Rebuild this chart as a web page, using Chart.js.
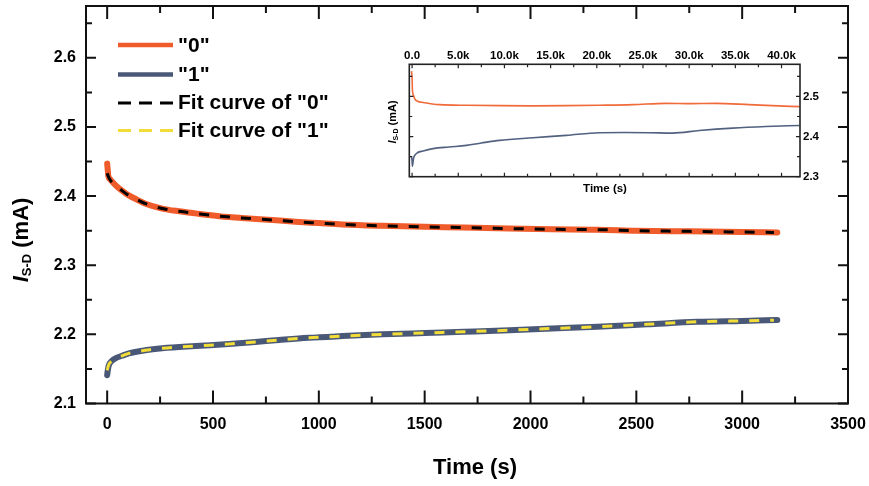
<!DOCTYPE html>
<html>
<head>
<meta charset="utf-8">
<script src="https://cdn.jsdelivr.net/npm/chart.js@4.4.1/dist/chart.umd.min.js"></script>
<style>
html, body { margin: 0; padding: 0; background: #fff; }
#wrap { position: relative; width: 869px; height: 486px; }
#main { position: absolute; left: 0; top: 0; }
#inset { position: absolute; left: 340px; top: 0; }
</style>
</head>
<body>
<div id="wrap">
  <canvas id="main" width="869" height="486" style="width:869px;height:486px"></canvas>
  <canvas id="inset" width="500" height="200" style="width:500px;height:200px"></canvas>
</div>
<script>
// main plot: first ~3200 s
const time0 = [0, 3, 5, 15, 39, 70, 102, 140, 181, 260, 340, 417, 530, 654, 780, 890, 1000, 1111, 1300, 1500, 1685, 1900, 2100, 2316, 2500, 2750, 3000, 3166];
const curr0 = [2.447, 2.437, 2.430, 2.424, 2.416, 2.408, 2.401, 2.395, 2.389, 2.382, 2.378, 2.375, 2.371, 2.368, 2.3655, 2.363, 2.361, 2.359, 2.357, 2.3555, 2.3545, 2.353, 2.352, 2.3515, 2.350, 2.349, 2.348, 2.3475];
const fitTime0 = [0, 5, 15, 39, 70, 102, 140, 181, 260, 340, 417, 530, 654, 780, 890, 1000, 1111, 1300, 1500, 1685, 1900, 2100, 2316, 2500, 2750, 3000, 3150];
const fit0 = [2.433, 2.429, 2.423, 2.416, 2.408, 2.401, 2.395, 2.389, 2.382, 2.378, 2.375, 2.371, 2.368, 2.3655, 2.363, 2.361, 2.359, 2.357, 2.3555, 2.3545, 2.353, 2.352, 2.3515, 2.350, 2.349, 2.348, 2.3475];

const time1 = [0, 3, 8, 20, 39, 70, 102, 180, 260, 417, 575, 700, 811, 950, 1111, 1300, 1500, 1685, 1900, 2100, 2316, 2550, 2788, 3000, 3166];
const curr1 = [2.141, 2.148, 2.1556, 2.161, 2.1653, 2.169, 2.1725, 2.177, 2.1798, 2.1831, 2.186, 2.189, 2.1918, 2.195, 2.1975, 2.200, 2.202, 2.2038, 2.206, 2.2085, 2.211, 2.2145, 2.2182, 2.2195, 2.2207];
const fitTime1 = [0, 8, 20, 39, 70, 102, 180, 260, 417, 575, 700, 811, 950, 1111, 1300, 1500, 1685, 1900, 2100, 2316, 2550, 2788, 3000, 3150];
const fit1 = [2.148, 2.1565, 2.161, 2.1653, 2.169, 2.1725, 2.177, 2.1798, 2.1831, 2.186, 2.189, 2.1918, 2.195, 2.1975, 2.200, 2.202, 2.2038, 2.206, 2.2085, 2.211, 2.2145, 2.2182, 2.2195, 2.2205];

// inset: full ~42 ks run
const insTime0 = [-60, 0, 45, 150, 290, 600, 1190, 3000, 6000, 9490, 13000, 16700, 20300, 23900, 27500, 30000, 32900, 36500, 39000, 41950];
const insCurr0 = [2.563, 2.545, 2.514, 2.503, 2.494, 2.488, 2.485, 2.4795, 2.478, 2.477, 2.4765, 2.477, 2.478, 2.4795, 2.4827, 2.482, 2.4827, 2.4795, 2.477, 2.4745];
const insTime1 = [-60, 0, 40, 150, 477, 1200, 2273, 4000, 5890, 7500, 9490, 13100, 16700, 20300, 23000, 25700, 28200, 31100, 34700, 38300, 41950];
const insCurr1 = [2.349, 2.340, 2.326, 2.345, 2.3578, 2.364, 2.370, 2.374, 2.378, 2.384, 2.3906, 2.397, 2.403, 2.4096, 2.410, 2.4096, 2.4086, 2.415, 2.421, 2.425, 2.4277];

const legendLabels = ['"0"', '"1"', 'Fit curve of "0"', 'Fit curve of "1"'];
const xTicks = [0, 500, 1000, 1500, 2000, 2500, 3000, 3500];
const xMinor = [250, 750, 1250, 1750, 2250, 2750, 3250];
const yTicks = [2.1, 2.2, 2.3, 2.4, 2.5, 2.6];
const yMinor = [2.15, 2.25, 2.35, 2.45, 2.55, 2.65];
const insXTicks = [0, 5000, 10000, 15000, 20000, 25000, 30000, 35000, 40000];
const insXMinor = [2500, 7500, 12500, 17500, 22500, 27500, 32500, 37500];
const insYTicks = [2.3, 2.4, 2.5];
const insYMinor = [2.35, 2.45, 2.55];

const ORANGE = '#EF5B2B';
const BLUE = '#4A5877';
const YELLOW = '#F2DC38';
const FONT = '"Liberation Sans", Arial, sans-serif';

const pts = (xs, ys) => xs.map((x, i) => ({ x, y: ys[i] }));

// keep chart area fixed: no extra label padding from the scales
const noPad = s => { s.paddingTop = 0; s.paddingBottom = 0; s.paddingLeft = 0; s.paddingRight = 0; };

function boxTicks(chart, o) {
    const { ctx, chartArea: a, scales } = chart;
    const xs = scales.x, ys = scales.y;
    ctx.save();
    ctx.strokeStyle = o.color;
    ctx.lineWidth = o.tickWidth;
    ctx.beginPath();
    const vx = (list, len) => list.forEach(v => {
        const p = xs.getPixelForValue(v);
        ctx.moveTo(p, a.bottom); ctx.lineTo(p, a.bottom - len);
        ctx.moveTo(p, a.top); ctx.lineTo(p, a.top + len);
    });
    const hy = (list, len) => list.forEach(v => {
        const p = ys.getPixelForValue(v);
        ctx.moveTo(a.left, p); ctx.lineTo(a.left + len, p);
        ctx.moveTo(a.right, p); ctx.lineTo(a.right - len, p);
    });
    vx(o.xMajor, o.xMajLen); vx(o.xMinor, o.xMinLen);
    hy(o.yMajor, o.yMajLen); hy(o.yMinor, o.yMinLen);
    ctx.stroke();
    ctx.lineWidth = o.frameWidth;
    ctx.strokeRect(a.left, a.top, a.right - a.left, a.bottom - a.top);
    ctx.restore();
}

// rotated "I_S-D (mA)" label
function yTitle(ctx, bx, cy, size, sub, shift) {
    ctx.save();
    ctx.translate(bx, cy);
    ctx.rotate(-Math.PI / 2);
    ctx.fillStyle = '#000';
    ctx.textBaseline = 'alphabetic';
    const parts = [
        { t: 'I', f: `italic bold ${size}px ${FONT}`, dy: 0 },
        { t: 'S-D', f: `bold ${sub}px ${FONT}`, dy: shift },
        { t: ' (mA)', f: `bold ${size}px ${FONT}`, dy: 0 }
    ];
    let total = 0;
    parts.forEach(p => { ctx.font = p.f; p.w = ctx.measureText(p.t).width; total += p.w; });
    let x = -total / 2;
    parts.forEach(p => { ctx.font = p.f; ctx.fillText(p.t, x, p.dy); x += p.w; });
    ctx.restore();
}

const mainDecor = {
    id: 'mainDecor',
    afterDraw(chart) {
        const ctx = chart.ctx;
        boxTicks(chart, {
            color: '#111', tickWidth: 2, frameWidth: 2,
            xMajor: xTicks, xMinor: xMinor, xMajLen: 13, xMinLen: 7,
            yMajor: yTicks, yMinor: yMinor, yMajLen: 10, yMinLen: 6
        });
        // legend
        const rows = [
            { y: 45, ty: 46, color: ORANGE, w: 4.5, dash: [] },
            { y: 74.5, ty: 75, color: BLUE, w: 4.5, dash: [] },
            { y: 103, ty: 103, color: '#000', w: 3, dash: [13, 8] },
            { y: 130.5, ty: 131, color: YELLOW, w: 3, dash: [13, 8] }
        ];
        ctx.save();
        rows.forEach((r, i) => {
            ctx.beginPath();
            ctx.setLineDash(r.dash);
            ctx.strokeStyle = r.color;
            ctx.lineWidth = r.w;
            ctx.moveTo(118, r.y); ctx.lineTo(173, r.y);
            ctx.stroke();
            ctx.setLineDash([]);
            ctx.fillStyle = '#000';
            ctx.font = `bold 21px ${FONT}`;
            ctx.textBaseline = 'middle';
            ctx.textAlign = 'left';
            ctx.fillText(legendLabels[i], 178, r.ty);
        });
        ctx.font = `bold 22px ${FONT}`;
        ctx.textAlign = 'center';
        ctx.fillText('Time (s)', 475, 468);
        ctx.restore();
        yTitle(ctx, 28, 240, 22, 13, 3);
    }
};

const insetDecor = {
    id: 'insetDecor',
    afterDraw(chart) {
        const ctx = chart.ctx;
        boxTicks(chart, {
            color: '#222', tickWidth: 1.2, frameWidth: 1.6,
            xMajor: insXTicks, xMinor: insXMinor, xMajLen: 4, xMinLen: 3,
            yMajor: insYTicks, yMinor: insYMinor, yMajLen: 4, yMinLen: 3
        });
        ctx.save();
        ctx.fillStyle = '#000';
        ctx.font = `bold 11.5px ${FONT}`;
        ctx.textAlign = 'center';
        ctx.textBaseline = 'middle';
        ctx.fillText('Time (s)', 605 - 340, 188.5);
        ctx.restore();
        yTitle(ctx, 396 - 340, 122, 11, 7, 2);
    }
};

new Chart(document.getElementById('main'), {
    type: 'scatter',
    data: {
        datasets: [
            { label: legendLabels[2], data: pts(fitTime0, fit0), borderColor: '#000', borderWidth: 3, borderDash: [10, 11], order: 0 },
            { label: legendLabels[3], data: pts(fitTime1, fit1), borderColor: YELLOW, borderWidth: 3, borderDash: [10, 11], order: 0 },
            { label: legendLabels[0], data: pts(time0, curr0), borderColor: ORANGE, borderWidth: 6, borderCapStyle: 'round', order: 1 },
            { label: legendLabels[1], data: pts(time1, curr1), borderColor: BLUE, borderWidth: 6, borderCapStyle: 'round', order: 1 }
        ].map(d => Object.assign({ showLine: true, pointRadius: 0, cubicInterpolationMode: 'monotone', fill: false }, d))
    },
    options: {
        responsive: false,
        animation: false,
        layout: { padding: { left: 0, top: 6, right: 21, bottom: 0 } },
        plugins: { legend: { display: false }, tooltip: { enabled: false } },
        scales: {
            x: {
                type: 'linear', min: -100, max: 3500,
                grid: { display: false, drawTicks: false },
                border: { display: false },
                afterBuildTicks: s => { s.ticks = xTicks.map(v => ({ value: v })); },
                afterFit: s => { s.height = 82.5; noPad(s); },
                ticks: { color: '#000', font: { family: FONT, size: 16, weight: 'bold' }, padding: 11, maxRotation: 0, callback: v => String(v) }
            },
            y: {
                type: 'linear', min: 2.1, max: 2.675,
                grid: { display: false, drawTicks: false },
                border: { display: false },
                afterBuildTicks: s => { s.ticks = yTicks.map(v => ({ value: v })); },
                afterFit: s => { s.width = 86; noPad(s); },
                ticks: { color: '#000', font: { family: FONT, size: 16, weight: 'bold' }, padding: 10, callback: v => v.toFixed(1) }
            }
        }
    },
    plugins: [mainDecor]
});

new Chart(document.getElementById('inset'), {
    type: 'scatter',
    data: {
        datasets: [
            { label: legendLabels[0], data: pts(insTime0, insCurr0), borderColor: '#F06A3A' },
            { label: legendLabels[1], data: pts(insTime1, insCurr1), borderColor: '#51617F' }
        ].map(d => Object.assign({ showLine: true, pointRadius: 0, borderWidth: 1.6, cubicInterpolationMode: 'monotone', fill: false }, d))
    },
    options: {
        responsive: false,
        animation: false,
        layout: { padding: { left: 69.3, top: 0, right: 0, bottom: 23.3 } },
        plugins: { legend: { display: false }, tooltip: { enabled: false } },
        scales: {
            x: {
                type: 'linear', position: 'top', min: -300, max: 42000,
                grid: { display: false, drawTicks: false },
                border: { display: false },
                afterBuildTicks: s => { s.ticks = insXTicks.map(v => ({ value: v })); },
                afterFit: s => { s.height = 64.3; noPad(s); },
                ticks: { color: '#000', font: { family: FONT, size: 11.5, weight: 'bold' }, padding: 2, maxRotation: 0,
                         callback: v => (v / 1000).toFixed(1) + (v === 0 ? '' : 'k') }
            },
            y: {
                type: 'linear', position: 'right', min: 2.3, max: 2.58,
                grid: { display: false, drawTicks: false },
                border: { display: false },
                afterBuildTicks: s => { s.ticks = insYTicks.map(v => ({ value: v })); },
                afterFit: s => { s.width = 40; noPad(s); },
                ticks: { color: '#000', font: { family: FONT, size: 11.5, weight: 'bold' }, padding: 3, callback: v => v.toFixed(1) }
            }
        }
    },
    plugins: [insetDecor]
});
</script>
</body>
</html>
